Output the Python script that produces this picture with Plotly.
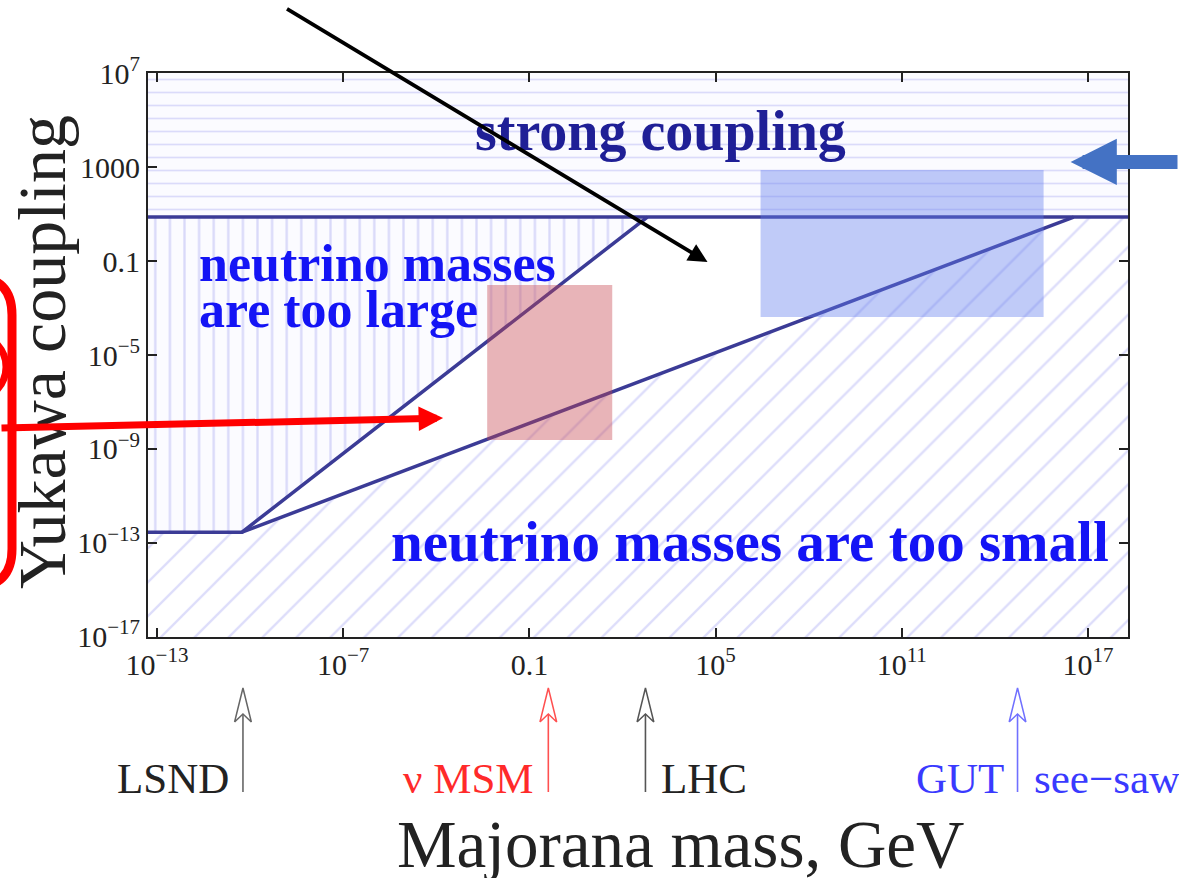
import plotly.graph_objects as go

# ---------------- data (log10 values) ----------------
x_range_log = [-13.29, 18.29]
y_range_log = [-17.02, 7.02]

x_tick_vals = [1e-13, 1e-7, 0.1, 1e5, 1e11, 1e17]
x_tick_text = ["10<sup>−13</sup>", "10<sup>−7</sup>", "0.1", "10<sup>5</sup>",
               "10<sup>11</sup>", "10<sup>17</sup>"]
y_tick_vals = [1e7, 1e3, 0.1, 1e-5, 1e-9, 1e-13, 1e-17]
y_tick_text = ["10<sup>7</sup>", "1000", "0.1", "10<sup>−5</sup>", "10<sup>−9</sup>",
               "10<sup>−13</sup>", "10<sup>−17</sup>"]

strong_coupling_log = 0.88      # horizontal boundary
flat_level_log = -12.55         # low-mass plateau
kink_mass_log = -10.26          # where the two diagonals start
upper_end_mass_log = 2.80       # upper diagonal meets strong coupling
lower_end_mass_log = 16.54      # lower (see-saw) diagonal meets strong coupling

# highlighted boxes (log10 corners)
red_box_x_log = [-2.36, 1.67]
red_box_y_log = [-8.62, -2.02]
blue_box_x_log = [6.45, 15.57]
blue_box_y_log = [-3.38, 2.89]

# scales marked under the axis
scale_labels = ["LSND", "ν MSM", "LHC", "GUT"]
scale_mass_log = [-10.23, -0.39, 2.74, 14.73]
scale_text_colors = ["#222222", "#ff2a2a", "#222222", "#3a3aff"]
scale_arrow_colors = ["#666666", "#ff5050", "#555555", "#7070ff"]
scale_label_side = ["left", "left", "right", "left"]
extra_label = "see−saw"

# ---------------- derived geometry ----------------
P = lambda v: 10 ** v
xmin, xmax = P(x_range_log[0]), P(x_range_log[1])
ymin, ymax = P(y_range_log[0]), P(y_range_log[1])
ys, yf = P(strong_coupling_log), P(flat_level_log)
xk, xu, xl = P(kink_mass_log), P(upper_end_mass_log), P(lower_end_mass_log)

W, H = 1179, 878
ML, MR, MT, MB = 148, 51, 73, 0
main_bottom = (H - 637 - MB) / (H - MT - MB)
bottom_dom = 0.26
head_half_dec = 0.27   # half width of the small arrow heads, in decades


def paper_x(px):
    return (px - ML) / (W - ML - MR)


def paper_y(py):
    return (H - MB - py) / (H - MT - MB)


def panel_v(py):
    return (H - MB - py) / (bottom_dom * (H - MT - MB))


fig = go.Figure()

hatch_fg = "#bcbcf6"
# strong coupling region: horizontal hatch
fig.add_trace(go.Scatter(
    x=[xmin, xmax, xmax, xmin], y=[ys, ys, ymax, ymax], fill="toself",
    mode="none", fillpattern=dict(shape="-", size=13, solidity=0.13,
                                  fgcolor=hatch_fg, bgcolor="#fbfbff"),
    hoverinfo="skip", showlegend=False))
# too large: vertical hatch
fig.add_trace(go.Scatter(
    x=[xmin, xk, xu, xmin], y=[yf, yf, ys, ys], fill="toself",
    mode="none", fillpattern=dict(shape="|", size=14.6, solidity=0.16,
                                  fgcolor="#b8b8f4", bgcolor="#fbfbff"),
    hoverinfo="skip", showlegend=False))
# too small: diagonal hatch
fig.add_trace(go.Scatter(
    x=[xmin, xmin, xk, xl, xmax, xmax], y=[ymin, yf, yf, ys, ys, ymin], fill="toself",
    mode="none", fillpattern=dict(shape="/", size=24, solidity=0.1,
                                  fgcolor=hatch_fg, bgcolor="white"),
    hoverinfo="skip", showlegend=False))

line_style = dict(color="#3b3b96", width=3.5)
fig.add_trace(go.Scatter(x=[xmin, xmax], y=[ys, ys], mode="lines", line=line_style,
                         showlegend=False, hoverinfo="skip"))
fig.add_trace(go.Scatter(x=[xmin, xk, xu], y=[yf, yf, ys], mode="lines", line=line_style,
                         showlegend=False, hoverinfo="skip"))
fig.add_trace(go.Scatter(x=[xk, xl], y=[yf, ys], mode="lines", line=line_style,
                         showlegend=False, hoverinfo="skip"))

# translucent highlight boxes
for bx, by, col in [(red_box_x_log, red_box_y_log, "rgba(197,68,78,0.40)"),
                    (blue_box_x_log, blue_box_y_log, "rgba(97,125,237,0.40)")]:
    x0, x1 = P(bx[0]), P(bx[1])
    y0, y1 = P(by[0]), P(by[1])
    fig.add_trace(go.Scatter(x=[x0, x1, x1, x0], y=[y0, y0, y1, y1], fill="toself",
                             mode="none", fillcolor=col, showlegend=False,
                             hoverinfo="skip"))

# arrows under the axis (bottom panel)
tip_v, base_v, notch_v, bottom_v = panel_v(688), panel_v(722), panel_v(714), panel_v(792)
for m, ac in zip(scale_mass_log, scale_arrow_colors):
    fig.add_trace(go.Scatter(x=[P(m), P(m)], y=[bottom_v, notch_v], mode="lines",
                             line=dict(color=ac, width=1.6), xaxis="x2", yaxis="y2",
                             showlegend=False, hoverinfo="skip"))
    hx = [P(m - head_half_dec), P(m), P(m + head_half_dec), P(m), P(m - head_half_dec)]
    hy = [base_v, tip_v, base_v, notch_v, base_v]
    fig.add_trace(go.Scatter(x=hx, y=hy, mode="lines", line=dict(color=ac, width=1.5),
                             xaxis="x2", yaxis="y2", showlegend=False, hoverinfo="skip"))

annotations = []
label_v = panel_v(778)
for lab, m, tc, side in zip(scale_labels, scale_mass_log, scale_text_colors, scale_label_side):
    annotations.append(dict(
        x=m, y=label_v, xref="x2", yref="y2", text=lab, showarrow=False,
        xanchor="right" if side == "left" else "left", yanchor="middle",
        xshift=-12 if side == "left" else 14,
        font=dict(family="Liberation Serif", size=43, color=tc)))
annotations.append(dict(
    x=scale_mass_log[3], y=label_v, xref="x2", yref="y2", text=extra_label,
    showarrow=False, xanchor="left", yanchor="middle", xshift=14,
    font=dict(family="Liberation Serif", size=43, color=scale_text_colors[3])))

# region labels
annotations += [
    dict(x=3.22, y=4.55, xref="x", yref="y", text="<b>strong coupling</b>", showarrow=False,
         font=dict(family="Liberation Serif", size=56, color="#1f1f96")),
    dict(x=-11.71, y=-1.08, xref="x", yref="y", text="<b>neutrino masses</b>",
         showarrow=False, xanchor="left",
         font=dict(family="Liberation Serif", size=52, color="#1414f5")),
    dict(x=-11.71, y=-3.08, xref="x", yref="y", text="<b>are too large</b>",
         showarrow=False, xanchor="left",
         font=dict(family="Liberation Serif", size=52, color="#1414f5")),
    dict(x=6.12, y=-12.93, xref="x", yref="y", text="<b>neutrino masses are too small</b>",
         showarrow=False,
         font=dict(family="Liberation Serif", size=57, color="#1414f5")),
]

# axis titles
annotations += [
    dict(x=paper_x(680), y=paper_y(844), xref="paper", yref="paper",
         xanchor="center", yanchor="middle",
         text="Majorana mass, GeV", showarrow=False,
         font=dict(family="Liberation Serif", size=67, color="#222222")),
    dict(x=paper_x(42), y=paper_y(352), xref="paper", yref="paper", textangle=-90,
         xanchor="center", yanchor="middle",
         text="Yukawa coupling", showarrow=False,
         font=dict(family="Liberation Serif", size=68, color="#222222")),
]

# pointer arrows
annotations += [
    dict(x=4.74, y=-1.04, xref="x", yref="y", text="", showarrow=True,
         ax=-422, ay=-254, axref="pixel", ayref="pixel", arrowcolor="black",
         arrowwidth=3.8, arrowhead=2, arrowsize=1.0, standoff=0),
    dict(x=-3.78, y=-7.69, xref="x", yref="y", text="", showarrow=True,
         ax=-450, ay=10, arrowcolor="#ff0000", arrowwidth=7, arrowhead=2,
         arrowsize=0.7, standoff=0),
    dict(x=16.44, y=3.23, xref="x", yref="y", text="", showarrow=True,
         ax=125, ay=0, arrowcolor="#4472c4", arrowwidth=14, arrowhead=2,
         arrowsize=0.66, standoff=0),
]

# red rounded frame and arc at the left edge
x0, x1, y0, y1, r = -70, 12, 277, 587, 38
path = (f"M {paper_x(x0)},{paper_y(y0)} L {paper_x(x1 - r)},{paper_y(y0)} "
        f"Q {paper_x(x1)},{paper_y(y0)} {paper_x(x1)},{paper_y(y0 + r)} "
        f"L {paper_x(x1)},{paper_y(y1 - r)} "
        f"Q {paper_x(x1)},{paper_y(y1)} {paper_x(x1 - r)},{paper_y(y1)} "
        f"L {paper_x(x0)},{paper_y(y1)}")
shapes = [
    dict(type="path", path=path, xref="paper", yref="paper",
         line=dict(color="#ff0000", width=9), layer="above"),
    dict(type="circle", xref="paper", yref="paper", x0=paper_x(-50), x1=paper_x(6),
         y0=paper_y(398), y1=paper_y(336), line=dict(color="#ff0000", width=7)),
]

axis_common = dict(type="log", ticks="inside", ticklen=9, tickwidth=1.5, tickcolor="#222222",
                   showline=True, linewidth=2, linecolor="#222222", mirror="ticks",
                   showgrid=False, zeroline=False, automargin=False,
                   tickfont=dict(family="Liberation Serif", size=30, color="#222222"))

fig.update_layout(
    width=W, height=H, autosize=False,
    margin=dict(l=ML, r=MR, t=MT, b=MB, pad=0),
    paper_bgcolor="white", plot_bgcolor="white",
    xaxis=dict(range=x_range_log, tickvals=x_tick_vals, ticktext=x_tick_text,
               anchor="y", domain=[0, 1], **axis_common),
    yaxis=dict(range=y_range_log, tickvals=y_tick_vals, ticktext=y_tick_text,
               anchor="x", domain=[main_bottom, 1], **axis_common),
    xaxis2=dict(type="log", range=x_range_log, anchor="y2", domain=[0, 1],
                matches="x", visible=False, automargin=False),
    yaxis2=dict(range=[0, 1], anchor="x2", domain=[0, bottom_dom], visible=False,
                automargin=False),
    annotations=annotations, shapes=shapes, showlegend=False,
)

fig.write_html("out.html")
